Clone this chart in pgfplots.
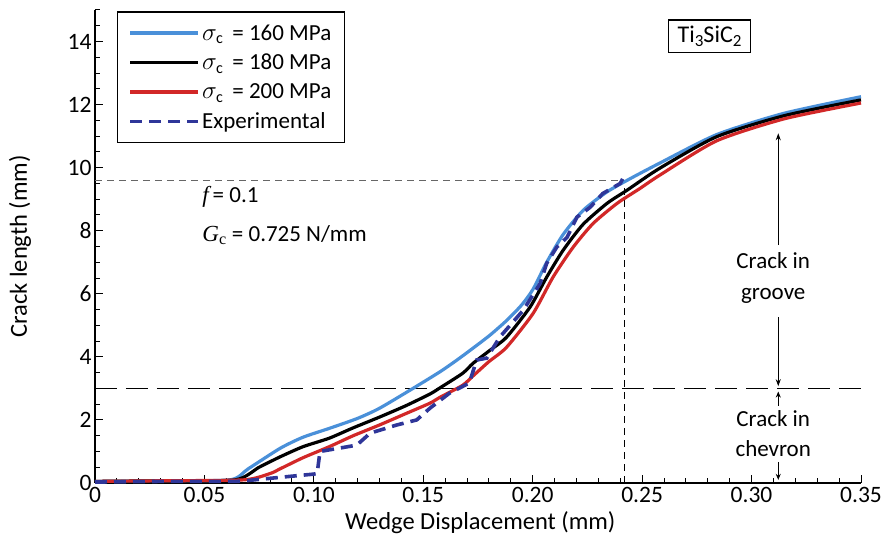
\documentclass[border=0pt]{standalone}
\usepackage{pgfplots}
\pgfplotsset{compat=1.18}
\usepackage{fontspec}
\setmainfont{Carlito}
\newfontfamily\serif{Liberation Serif}
\usetikzlibrary{arrows.meta}
\definecolor{c160}{RGB}{74,144,217}
\definecolor{c200}{RGB}{210,40,40}
\definecolor{cexp}{RGB}{47,54,153}
\newcommand{\fs}{\fontsize{23}{27}\selectfont}
\begin{document}
\begin{tikzpicture}
\path[use as bounding box] (-95pt,-62pt) rectangle (786pt,483pt);
\begin{axis}[
  scale only axis, width=766pt, height=473pt,
  xmin=0, xmax=0.35, ymin=0, ymax=15,
  axis x line*=bottom, axis y line*=left,
  axis line style={line width=1.2pt,-},
  tick align=inside, major tick length=8pt, minor tick length=5pt,
  every tick/.style={black,line width=1pt},
  xtick={0,0.05,0.1,0.15,0.2,0.25,0.3,0.35},
  xticklabels={0,0.05,0.10,0.15,0.20,0.25,0.30,0.35},
  minor xtick={0.01,0.02,0.03,0.04,0.06,0.07,0.08,0.09,0.11,0.12,0.13,0.14,0.16,0.17,0.18,0.19,0.21,0.22,0.23,0.24,0.26,0.27,0.28,0.29,0.31,0.32,0.33,0.34},
  ytick={0,2,4,6,8,10,12,14},
  minor ytick={0.5,1,1.5,2.5,3,3.5,4.5,5,5.5,6.5,7,7.5,8.5,9,9.5,10.5,11,11.5,12.5,13,13.5,14.5,15},
  /pgf/number format/assume math mode=true,
  ticklabel style={font=\fontsize{23.5}{28}\selectfont},
  xticklabel style={yshift=-1pt},
  xlabel={Wedge Displacement (mm)}, ylabel={Crack length (mm)},
  label style={font=\fontsize{24.5}{29}\selectfont},
  xlabel style={at={(axis description cs:0.503,-0.0846)}, anchor=center},
  ylabel style={at={(axis description cs:-0.098,0.5)}, anchor=center},
  clip=false,
  legend style={at={(rel axis cs:0.0287,0.997)}, anchor=north west, draw=black, line width=1.2pt,
    font=\fs, inner xsep=11pt, inner ysep=10.5pt, row sep=8.5pt, cells={anchor=west}},
  legend image code/.code={\draw[#1] (0pt,0pt) -- (68pt,0pt);},
]
\draw[black!60, dash pattern=on 7pt off 5pt, line width=0.9pt] (axis cs:0,9.6) -- (axis cs:0.2418,9.6);
\draw[black, dash pattern=on 7pt off 5pt, line width=1pt] (axis cs:0.2418,0) -- (axis cs:0.2418,9.6);
\draw[black, dash pattern=on 22pt off 9pt, line width=1.2pt] (axis cs:0,3) -- (axis cs:0.35,3);

\addplot[c160, line width=3.2pt, smooth, tension=0.4] coordinates {
(0,0.05) (0.03,0.07) (0.0617,0.1) (0.07,0.45) (0.0846,1.1) (0.095,1.45) (0.1074,1.74)
(0.12,2.05) (0.130,2.37) (0.1453,3.0) (0.1577,3.53) (0.1654,3.9) (0.1728,4.28)
(0.1805,4.69) (0.1882,5.16) (0.195,5.65) (0.2002,6.15) (0.2064,7.0) (0.2139,7.88)
(0.2231,8.65) (0.2339,9.23) (0.2445,9.65) (0.2582,10.15) (0.2841,11.05) (0.3146,11.72) (0.35,12.25)};
\addlegendentry{$\sigma_{\mathrm{c}}$\, = 160 MPa}
\addplot[black, line width=3.2pt, smooth, tension=0.4] coordinates {
(0,0.05) (0.03,0.07) (0.064,0.1) (0.075,0.5) (0.0846,0.83) (0.095,1.15) (0.107,1.42)
(0.118,1.75) (0.130,2.09) (0.142,2.45) (0.153,2.82) (0.1577,3.02) (0.168,3.48) (0.1728,3.8)
(0.1805,4.21) (0.188,4.62) (0.1988,5.58) (0.2064,6.53) (0.2139,7.38) (0.223,8.2)
(0.234,8.87) (0.243,9.28) (0.258,9.98) (0.284,10.98) (0.315,11.65) (0.35,12.15)};
\addlegendentry{$\sigma_{\mathrm{c}}$\, = 180 MPa}
\addplot[c200, line width=3.2pt, smooth, tension=0.4] coordinates {
(0,0.05) (0.03,0.07) (0.068,0.1) (0.08,0.3) (0.0846,0.45) (0.095,0.8) (0.107,1.15)
(0.118,1.5) (0.130,1.84) (0.142,2.2) (0.153,2.53) (0.1577,2.72) (0.168,3.1) (0.1728,3.4)
(0.180,3.85) (0.188,4.3) (0.2002,5.38) (0.2093,6.53) (0.2185,7.48) (0.2276,8.23)
(0.2386,8.87) (0.249,9.34) (0.258,9.76) (0.284,10.85) (0.315,11.55) (0.35,12.05)};
\addlegendentry{$\sigma_{\mathrm{c}}$\, = 200 MPa}
\addplot[cexp, line width=3.6pt, dash pattern=on 12pt off 7pt] coordinates {
(0,0.03) (0.03,0.05) (0.0647,0.05) (0.07,0.08) (0.0876,0.2) (0.0997,0.28) (0.1015,0.3)
(0.1028,1.0) (0.1196,1.2) (0.1257,1.58) (0.1379,1.84) (0.147,2.0) (0.153,2.37)
(0.162,2.85) (0.171,3.17) (0.1744,3.9) (0.179,3.96) (0.185,4.63) (0.1957,5.48)
(0.2034,6.33) (0.2064,6.97) (0.211,7.48) (0.2157,7.79) (0.2202,8.43) (0.2262,8.74)
(0.232,9.18) (0.24,9.5) (0.2412,9.66)};
\addlegendentry{Experimental}

\node[anchor=west, font=\fs] at (axis cs:0.0475,9.06) {{\serif\itshape f}\,= 0.1};
\node[anchor=west, font=\fs] at (axis cs:0.0475,7.86) {{\serif\itshape G}\textsubscript{\serif c} = 0.725 N/mm};
\node[draw, line width=1.5pt, inner xsep=9pt, inner ysep=6pt, font=\fontsize{24}{28}\selectfont] at (axis cs:0.2808,14.17) {Ti\raisebox{-0.35ex}{\fontsize{17}{20}\selectfont 3}SiC\raisebox{-0.35ex}{\fontsize{17}{20}\selectfont 2}};
\node[align=center, font=\fontsize{23}{31}\selectfont] at (axis cs:0.3099,6.51) {Crack in\\groove};
\node[align=center, font=\fontsize{23}{30}\selectfont] at (axis cs:0.3099,1.58) {Crack in\\chevron};
\draw[line width=1pt, -{Stealth[length=7pt,width=5pt]}] (axis cs:0.3122,7.54) -- (axis cs:0.3122,11.09);
\draw[line width=1pt, -{Stealth[length=7pt,width=5pt]}] (axis cs:0.3122,5.26) -- (axis cs:0.3122,3.07);
\draw[line width=1pt, -{Stealth[length=6pt,width=5pt]}] (axis cs:0.3122,2.45) -- (axis cs:0.3122,2.9);
\draw[line width=1pt, -{Stealth[length=6pt,width=5pt]}] (axis cs:0.3122,0.67) -- (axis cs:0.3122,0.1);
\end{axis}
\end{tikzpicture}
\end{document}
